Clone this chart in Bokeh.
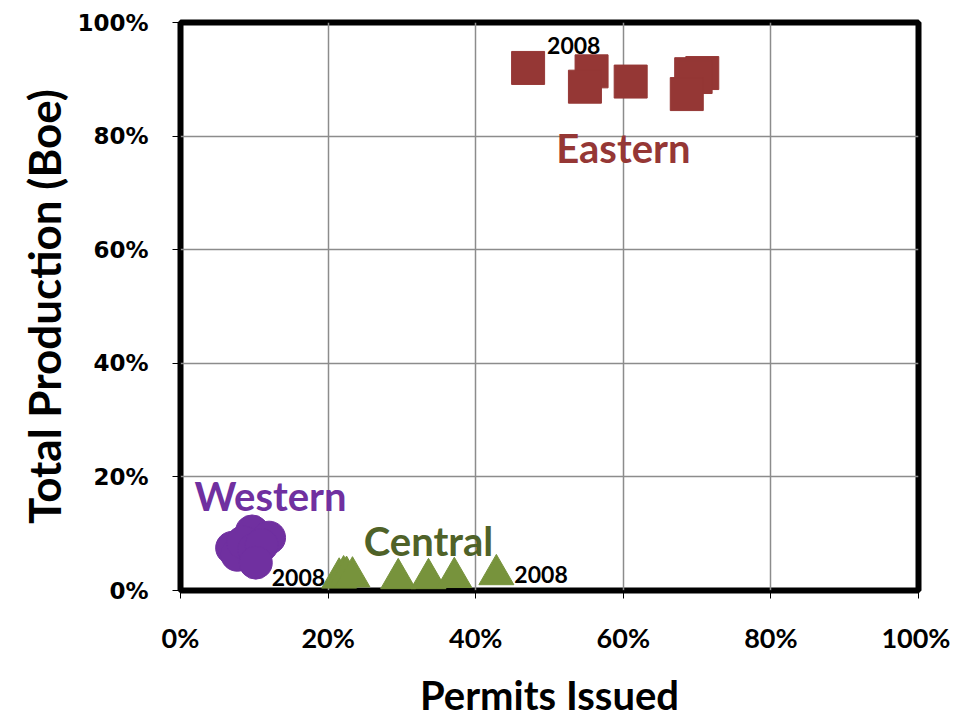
from bokeh.plotting import figure
from bokeh.models import Range1d, FixedTicker, NumeralTickFormatter, ColumnDataSource, Label
from bokeh.core.properties import value
from bokeh.embed import file_html
from bokeh.resources import INLINE

# Data (fractions: share of permits issued, share of total production)
eastern_x = [0.471, 0.557, 0.548, 0.610, 0.707, 0.692, 0.698, 0.686]
eastern_y = [0.920, 0.914, 0.887, 0.896, 0.911, 0.909, 0.904, 0.874]
central_x = [0.215, 0.221, 0.225, 0.233, 0.295, 0.336, 0.371, 0.428]
central_y = [0.022, 0.026, 0.025, 0.024, 0.021, 0.021, 0.023, 0.028]
western_x = [0.070, 0.077, 0.097, 0.120, 0.085, 0.100, 0.110, 0.102]
western_y = [0.075, 0.063, 0.104, 0.093, 0.085, 0.072, 0.080, 0.049]
point_labels = ["", "", "", "", "", "", "", "2008"]
eastern_labels = ["2008", "", "", "", "", "", "", ""]
ticks = [0, 0.2, 0.4, 0.6, 0.8, 1.0]

p = figure(width=950, height=721, output_backend="svg", toolbar_location=None,
           x_range=Range1d(0, 1), y_range=Range1d(0, 1),
           min_border_left=180, min_border_top=22, min_border_right=32, min_border_bottom=130)

p.outline_line_color = "black"
p.outline_line_width = 6
p.background_fill_color = "white"
p.border_fill_color = "white"

for ax in (p.xaxis[0], p.yaxis[0]):
    ax.ticker = FixedTicker(ticks=ticks)
    ax.formatter = NumeralTickFormatter(format="0%")
    ax.axis_line_color = None
    ax.major_tick_in = 0
    ax.major_tick_out = 8
    ax.major_tick_line_color = "black"
    ax.minor_tick_line_color = None
    ax.major_label_text_color = "black"
    ax.major_label_text_font_style = "bold"
    ax.axis_label_text_color = "black"
    ax.axis_label_text_font_style = "bold"
    ax.axis_label_text_font = "Lato"

p.yaxis.major_label_text_font = "DejaVu Sans"
p.yaxis.major_label_text_font_size = "23px"
p.yaxis.major_label_standoff = 24
p.yaxis.axis_label = "Total Production (Boe)"
p.yaxis.axis_label_text_font_size = "44px"
p.yaxis.axis_label_standoff = 4

p.xaxis.major_label_text_font = "Lato"
p.xaxis.major_label_text_font_size = "27px"
p.xaxis.major_label_standoff = 22
p.xaxis.axis_label = "Permits Issued"
p.xaxis.axis_label_text_font_size = "40px"
p.xaxis.axis_label_standoff = 14

p.grid.ticker = FixedTicker(ticks=ticks)
p.grid.grid_line_color = "#8c8c8c"
p.grid.grid_line_width = 1.5

east = ColumnDataSource(dict(x=eastern_x, y=eastern_y, lab=eastern_labels))
cent = ColumnDataSource(dict(x=central_x, y=central_y, lab=point_labels))
west = ColumnDataSource(dict(x=western_x, y=western_y, lab=point_labels))

p.scatter("x", "y", source=east, marker="square", size=33,
          fill_color="#953735", line_color="#953735")
p.scatter("x", "y", source=cent, marker="triangle", size=35,
          fill_color="#77933C", line_color="#77933C")
p.scatter("x", "y", source=west, marker="circle", size=33,
          fill_color="#7030A0", line_color="#7030A0")

# "2008" point labels
p.text("x", "y", text="lab", source=east, x_offset=19, y_offset=-22,
       text_font=value("Lato"), text_font_style="bold", text_font_size="23px",
       text_baseline="middle", text_align="left", text_color="black")
p.text("x", "y", text="lab", source=cent, x_offset=18, y_offset=0,
       text_font=value("Lato"), text_font_style="bold", text_font_size="23px",
       text_baseline="middle", text_align="left", text_color="black")
p.text("x", "y", text="lab", source=west, x_offset=16, y_offset=15,
       text_font=value("Lato"), text_font_style="bold", text_font_size="23px",
       text_baseline="middle", text_align="left", text_color="black")

# Region names
for name, lx, ly, col in [("Eastern", 0.600, 0.779, "#953735"),
                          ("Western", 0.122, 0.167, "#7030A0"),
                          ("Central", 0.336, 0.088, "#4F6228")]:
    p.add_layout(Label(x=lx, y=ly, text=name, text_align="center", text_baseline="middle",
                       text_font="Lato", text_font_style="bold", text_font_size="40px",
                       text_color=col))

open("out.html", "w").write(file_html(p, INLINE))
